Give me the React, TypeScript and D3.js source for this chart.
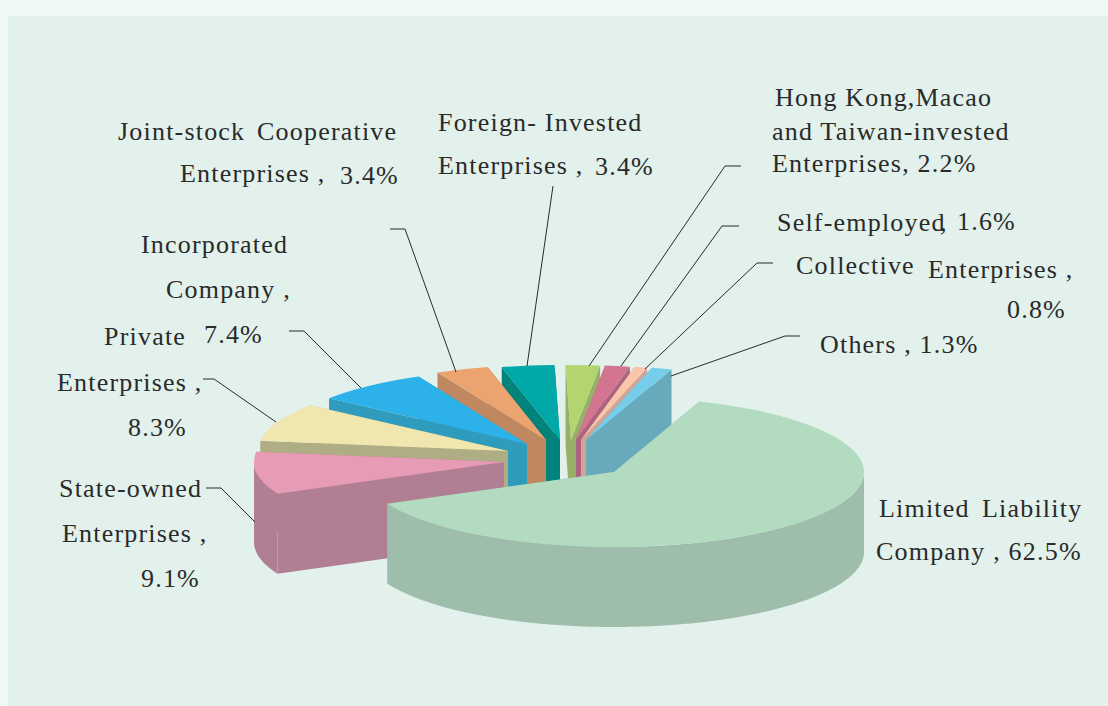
import React from "react";
import * as d3 from "d3";

const categories = [
  "Limited Liability Company",
  "State-owned Enterprises",
  "Private Enterprises",
  "Incorporated Company",
  "Joint-stock Cooperative Enterprises",
  "Foreign-Invested Enterprises",
  "Hong Kong,Macao and Taiwan-invested Enterprises",
  "Self-employed",
  "Collective Enterprises",
  "Others",
];
const shares = [62.5, 9.1, 8.3, 7.4, 3.4, 3.4, 2.2, 1.6, 0.8, 1.3];
const topColors = ["#b3dbc0", "#e79bb5", "#f0e7b0", "#2db1e9", "#eba36f", "#00a8a8", "#b2d56f", "#d37590", "#fac5aa", "#76ceeb"];
const wallColors = ["#9ebeab", "#b17f94", "#afad84", "#2f9cbd", "#c08860", "#00837b", "#97b068", "#ad6481", "#d0a598", "#67aabc"];

// where each exploded slice has its tip
const tips = [[614, 472], [504, 462], [508, 451], [527, 444], [546, 440], [560, 440], [571, 440], [576, 440], [581, 440], [586, 440]];
// back to front
const drawOrder = [6, 5, 7, 4, 8, 3, 9, 2, 1, 0];

const labelLines: [string, number, number][] = [
  ["Joint-stock", 118, 140],
  ["Cooperative", 257, 140],
  ["Enterprises ,", 180, 182],
  ["3.4%", 340, 184],
  ["Foreign- Invested", 438, 131],
  ["Enterprises ,", 438, 174],
  ["3.4%", 595, 175],
  ["Hong Kong,Macao", 775, 106],
  ["and Taiwan-invested", 772, 140],
  ["Enterprises, 2.2%", 772, 172],
  ["Self-employed", 777, 231],
  [",", 940, 231],
  ["1.6%", 957, 230],
  ["Collective", 796, 274],
  ["Enterprises ,", 928, 278],
  ["0.8%", 1007, 318],
  ["Others , 1.3%", 820, 353],
  ["Limited", 879, 517],
  ["Liability", 982, 517],
  ["Company , 62.5%", 876, 560],
  ["State-owned", 59, 497],
  ["Enterprises ,", 62, 542],
  ["9.1%", 141, 587],
  ["Private", 104, 345],
  ["Enterprises ,", 57, 391],
  ["8.3%", 128, 436],
  ["Incorporated", 141, 253],
  ["Company ,", 166, 298],
  ["7.4%", 204, 343],
];

const leaders: [number, number][][] = [
  [[390, 229], [405, 229], [456, 372]],
  [[553, 186], [527, 366]],
  [[741, 166], [725, 166], [589, 366]],
  [[739, 226], [722, 226], [621, 366]],
  [[773, 263], [757, 263], [645, 369]],
  [[800, 336], [785, 336], [671, 376]],
  [[289, 331], [304, 331], [361, 388]],
  [[203, 379], [214, 379], [276, 422]],
  [[206, 488], [221, 488], [255, 522]],
];

const width = 1108;
const height = 706;
const radius = 250;
const squash = 75 / 250;
const depth = 80;
const fullTurn = 2 * Math.PI;

function App() {
  const slices = d3
    .pie<number>()
    .sort(null)
    .startAngle((20 / 360) * fullTurn)
    .endAngle((380 / 360) * fullTurn)(shares);

  const arc = d3.arc<d3.PieArcDatum<number>>().innerRadius(0).outerRadius(radius);
  const outline = d3.line();

  // d3 angles start at 12 o'clock and run clockwise
  const rim = (tip: number[], a: number, drop = 0): [number, number] => [
    tip[0] + radius * Math.sin(a),
    tip[1] - radius * squash * Math.cos(a) + drop,
  ];

  const edgeWall = (tip: number[], a: number) =>
    outline([
      [tip[0], tip[1]],
      rim(tip, a),
      rim(tip, a, depth),
      [tip[0], tip[1] + depth],
    ]);

  // only the part of the rim facing the viewer (between 3 and 9 o'clock)
  const rimWall = (tip: number[], start: number, end: number) => {
    const from = Math.max(start, fullTurn / 4);
    const to = Math.min(end, (3 * fullTurn) / 4);
    if (to <= from) return null;
    const angles = d3.range(from, to, 0.01).concat(to);
    return outline([
      ...angles.map((a) => rim(tip, a)),
      ...angles.slice().reverse().map((a) => rim(tip, a, depth)),
    ]);
  };

  return (
    <svg width={width} height={height} style={{ position: "absolute", left: 0, top: 0 }}>
      <rect width={width} height={height} fill="#eff8f3" />
      <rect x={8} y={16} width={width - 8} height={height - 16} fill="#e2f1eb" />

      {drawOrder.map((i) => {
        const s = slices[i];
        const tip = tips[i];
        const rimPath = rimWall(tip, s.startAngle, s.endAngle);
        return (
          <g key={categories[i]}>
            <path d={edgeWall(tip, s.startAngle) ?? ""} fill={wallColors[i]} />
            <path d={edgeWall(tip, s.endAngle) ?? ""} fill={wallColors[i]} />
            {rimPath && <path d={rimPath} fill={wallColors[i]} />}
            <path
              d={arc(s) ?? ""}
              fill={topColors[i]}
              transform={`translate(${tip[0]},${tip[1]}) scale(1,${squash})`}
            />
          </g>
        );
      })}

      {leaders.map((points, i) => (
        <path key={i} d={outline(points) ?? ""} fill="none" stroke="#2b2b2b" strokeWidth={1} />
      ))}

      <g fontFamily="'Liberation Serif', serif" fontSize={26} letterSpacing={1.2} fill="#2a2a2a">
        {labelLines.map(([text, x, y], i) => (
          <text key={i} x={x} y={y} style={{ whiteSpace: "pre" }}>
            {text}
          </text>
        ))}
      </g>
    </svg>
  );
}

export default App;
